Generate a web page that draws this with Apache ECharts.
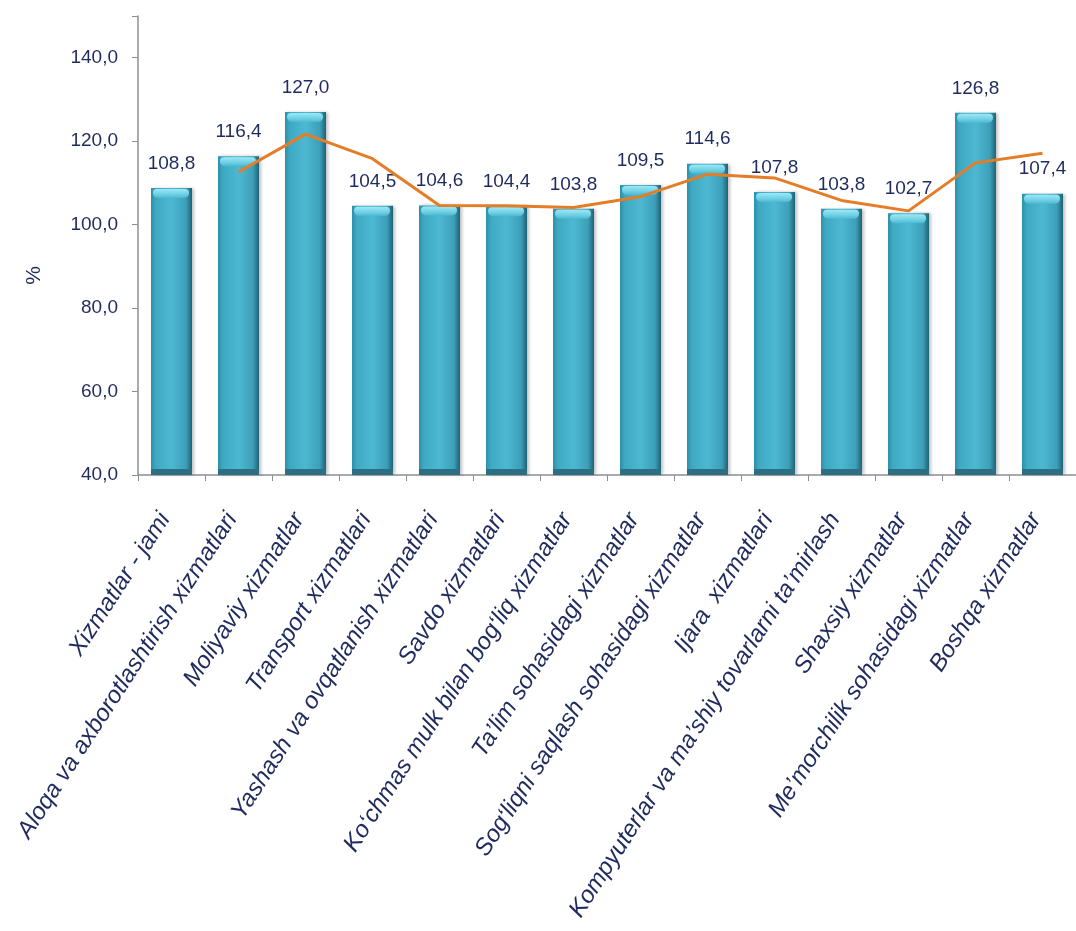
<!DOCTYPE html>
<html>
<head>
<meta charset="utf-8">
<script src="https://cdn.jsdelivr.net/npm/echarts@6/dist/echarts.min.js"></script>
<style>
html,body{margin:0;padding:0;background:#fff;}
#chart{width:1076px;height:931px;}
</style>
</head>
<body>
<div id="chart"></div>
<script>
const categories = [
  "Xizmatlar - jami",
  "Aloqa va axborotlashtirish xizmatlari",
  "Moliyaviy xizmatlar",
  "Transport xizmatlari",
  "Yashash va ovqatlanish xizmatlari",
  "Savdo xizmatlari",
  "Ko‘chmas mulk bilan bog‘liq xizmatlar",
  "Ta’lim sohasidagi xizmatlar",
  "Sog‘liqni saqlash sohasidagi xizmatlar",
  "Ijara  xizmatlari",
  "Kompyuterlar va ma’shiy tovarlarni ta’mirlash",
  "Shaxsiy xizmatlar",
  "Me’morchilik sohasidagi xizmatlar",
  "Boshqa xizmatlar"
];
const barValues = [108.8, 116.4, 127.0, 104.5, 104.6, 104.4, 103.8, 109.5, 114.6, 107.8, 103.8, 102.7, 126.8, 107.4];
const lineValues = [null, 112.6, 121.7, 115.8, 104.6, 104.5, 104.1, 106.7, 112.1, 111.2, 105.8, 103.3, 114.8, 117.1];
const yTicks = { min: 40, max: 150, interval: 20 };
const yAxisName = "%";

const navy = '#1F2B5E';
const fmt = v => v.toFixed(1).replace('.', ',');
const numFont = '"Liberation Sans", Arial, sans-serif';

const chart = echarts.init(document.getElementById('chart'));
chart.setOption({
  backgroundColor: '#ffffff',
  animation: false,
  grid: { left: 138, top: 16, height: 459, width: 948, containLabel: false },
  graphic: [{
    type: 'text', left: 24, top: 266, rotation: Math.PI / 2,
    style: { text: yAxisName, font: '21px "Liberation Sans", Arial', fill: navy }
  }],
  xAxis: {
    type: 'category',
    data: categories,
    axisLine: { lineStyle: { color: '#8a8f96', width: 1.5 } },
    axisTick: { show: true, length: 6, lineStyle: { color: '#8a8f96' } },
    axisLabel: {
      rotate: 57, interval: 0, margin: 30,
      padding: [0, 12, 0, 0],
      color: navy, fontSize: 24, fontStyle: 'italic',
      fontFamily: numFont
    }
  },
  yAxis: {
    type: 'value',
    min: yTicks.min, max: yTicks.max, interval: yTicks.interval,
    splitLine: { show: false },
    axisLine: { show: true, lineStyle: { color: '#8a8f96', width: 1.5 } },
    axisTick: { show: true, length: 6, inside: false, lineStyle: { color: '#8a8f96' } },
    axisLabel: {
      color: navy, fontSize: 19, margin: 20,
      fontFamily: numFont,
      formatter: v => (v > 140 ? '' : fmt(v))
    }
  },
  series: [
    {
      type: 'bar',
      data: barValues,
      barWidth: 41,
      z: 2,
      itemStyle: {
        color: new echarts.graphic.LinearGradient(0, 0, 1, 0, [
          { offset: 0, color: '#2E8FA8' },
          { offset: 0.12, color: '#3FA9C4' },
          { offset: 0.5, color: '#4DB8D2' },
          { offset: 0.85, color: '#3D9FB9' },
          { offset: 1, color: '#1E6275' }
        ]),
        shadowColor: 'rgba(0,0,0,0.25)', shadowBlur: 3, shadowOffsetX: 2, shadowOffsetY: 0
      },
      label: {
        show: true, position: 'top', distance: 15,
        color: navy, fontSize: 19,
        fontFamily: numFont,
        formatter: p => fmt(p.value)
      }
    },
    {
      type: 'custom',
      data: barValues.map((v, i) => [i, v]),
      z: 3,
      silent: true,
      renderItem: function (params, api) {
        const i = api.value(0), v = api.value(1);
        const top = api.coord([i, v]);
        const base = api.coord([i, yTicks.min]);
        const w = 41;
        const x = top[0] - w / 2;
        return {
          type: 'group',
          children: [
            { type: 'rect', shape: { x: x + 2, y: top[1] + 1, width: w - 5, height: 9, r: [4, 4, 5, 5] },
              style: { fill: new echarts.graphic.LinearGradient(0, 0, 0, 1, [
                { offset: 0, color: '#9DE8F5' }, { offset: 0.6, color: '#6FD0E4' }, { offset: 1, color: '#4DB8D2' } ]) } },
            { type: 'rect', shape: { x: x, y: base[1] - 6, width: w, height: 6 },
              style: { fill: '#2C6F80' } }
          ]
        };
      }
    },
    {
      type: 'line',
      data: lineValues,
      z: 4,
      symbol: 'none',
      connectNulls: false,
      lineStyle: { color: '#E57C26', width: 3 }
    }
  ]
});
</script>
</body>
</html>
